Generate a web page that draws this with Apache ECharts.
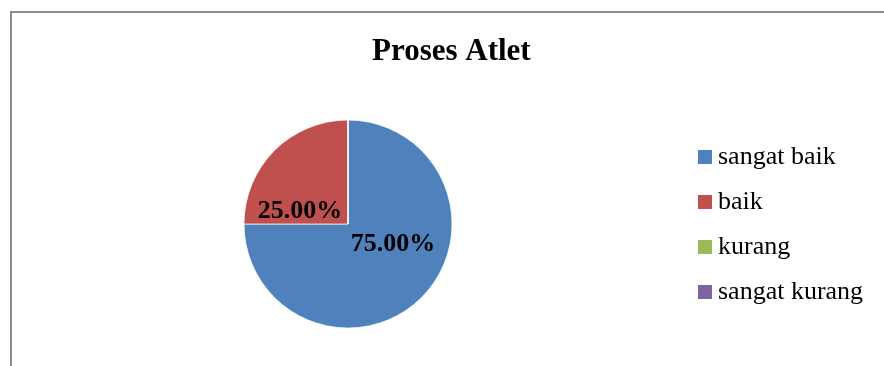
<!DOCTYPE html>
<html>
<head>
<meta charset="utf-8">
<script src="https://cdn.jsdelivr.net/npm/echarts@6/dist/echarts.min.js"></script>
<style>
    html, body { margin: 0; padding: 0; background: #fff; }
    #main { width: 884px; height: 366px; }
</style>
</head>
<body>
<div id="main"></div>
<script>
    var categories = ['sangat baik', 'baik', 'kurang', 'sangat kurang'];
    var values = [75, 25, 0, 0];
    var colors = ['#4f81bd', '#c0504d', '#9bbb59', '#8064a2'];

    // label nudges so the percentages sit where the original puts them
    var labelOffsets = [[6, -19], [-9, 26], [0, 0], [0, 0]];

    var pieData = [];
    for (var i = 0; i < categories.length; i++) {
        pieData.push({
            name: categories[i],
            value: values[i],
            itemStyle: { color: colors[i] },
            label: { offset: labelOffsets[i] }
        });
    }

    var myChart = echarts.init(document.getElementById('main'));
    myChart.setOption({
        animation: false,
        title: {
            text: 'Proses Atlet',
            left: 372,
            top: 36,
            padding: 0,
            textStyle: {
                fontFamily: 'Liberation Serif',
                fontWeight: 'bold',
                fontSize: 31,
                color: '#000'
            }
        },
        legend: {
            orient: 'vertical',
            left: 696,
            top: 144,
            padding: 0,
            itemWidth: 16,
            itemHeight: 16,
            itemGap: 19,
            icon: 'rect',
            textStyle: {
                fontFamily: 'Liberation Serif',
                fontSize: 26,
                lineHeight: 24,
                color: '#000',
                padding: [0, 0, 0, 0]
            },
            data: categories
        },
        graphic: [
            {
                type: 'line',
                shape: { x1: 11, y1: 12, x2: 884, y2: 12 },
                style: { stroke: '#8c8c8c', lineWidth: 2 }
            },
            {
                type: 'line',
                shape: { x1: 11, y1: 11, x2: 11, y2: 366 },
                style: { stroke: '#8c8c8c', lineWidth: 2 }
            }
        ],
        series: [
            {
                type: 'pie',
                center: [348, 224],
                radius: 104,
                startAngle: 90,
                clockwise: true,
                avoidLabelOverlap: false,
                itemStyle: { borderColor: '#fff', borderWidth: 0.7 },
                label: {
                    show: true,
                    position: 'inside',
                    fontFamily: 'Liberation Serif',
                    fontWeight: 'bold',
                    fontSize: 26,
                    color: '#000',
                    formatter: function (p) {
                        return p.value ? p.percent.toFixed(2) + '%' : '';
                    }
                },
                labelLine: { show: false },
                emphasis: { disabled: true },
                data: pieData
            }
        ]
    });
</script>
</body>
</html>
